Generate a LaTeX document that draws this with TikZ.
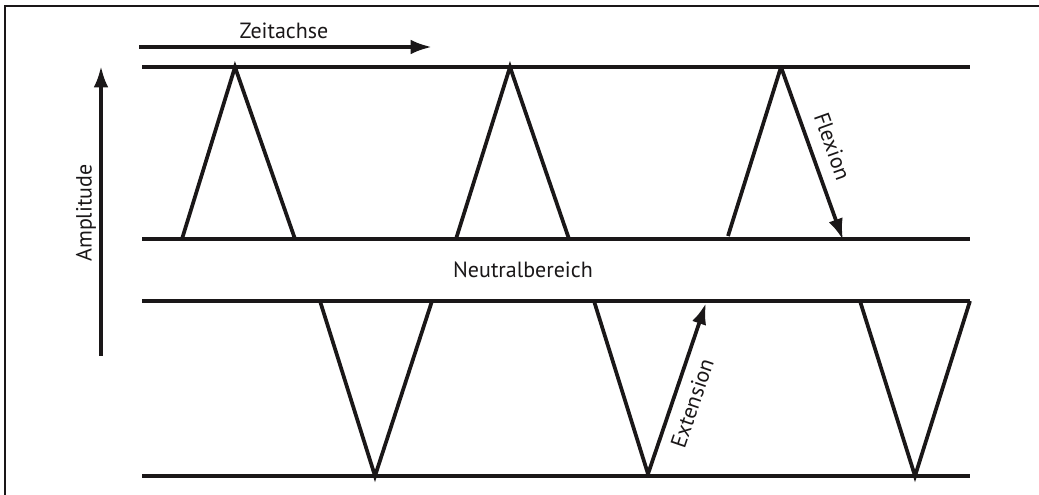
\documentclass[tikz,border=0pt]{standalone}
\usepackage{fontspec}
\setmainfont{PT Sans}
\usetikzlibrary{arrows.meta}
\definecolor{ink}{HTML}{1A1718}
\begin{document}
\begin{tikzpicture}[x=0.75pt,y=-0.75pt,
  ln/.style={draw=ink,line width=2.8pt},
  lbl/.style={text=ink,font=\fontsize{16.5pt}{18pt}\selectfont,inner sep=0pt},
  arr/.style={ln,-{Latex[length=16pt,width=11pt]}},
  frame/.style={draw=ink,line width=1.6pt}]
\useasboundingbox (0,0) rectangle (1039,495);
% frame (top and left only)
\coordinate (fbl) at (5,495);
\coordinate (ftl) at (5,6);
\coordinate (ftr) at (1039,6);
\draw[frame] (fbl) -- (ftl) -- (ftr);
% band lines
\coordinate (a1) at (142,67);  \coordinate (a2) at (970,67);
\coordinate (b1) at (142,239); \coordinate (b2) at (970,239);
\coordinate (c1) at (142,301); \coordinate (c2) at (970,301);
\coordinate (d1) at (142,476); \coordinate (d2) at (970,476);
\draw[ln] (a1) -- (a2);
\draw[ln] (b1) -- (b2);
\draw[ln] (c1) -- (c2);
\draw[ln] (d1) -- (d2);
% axes
\coordinate (zs) at (139,47); \coordinate (ze) at (432,47);
\draw[arr] (zs) -- (ze);
\node[lbl] (zt) at (284,31) {Zeitachse};
\coordinate (as) at (101,356); \coordinate (ae) at (101,66);
\draw[arr] (as) -- (ae);
\node[lbl,rotate=90] (at) at (86,213) {Amplitude};
\node[lbl] (nt) at (523,270) {Neutralbereich};
% upper triangles
\coordinate (u1l) at (182,239); \coordinate (u1p) at (235,67); \coordinate (u1r) at (295,239);
\coordinate (u2l) at (456,239); \coordinate (u2p) at (510,67); \coordinate (u2r) at (569,239);
\coordinate (u3l) at (728,236); \coordinate (u3p) at (781,67); \coordinate (u3r) at (843,240);
\draw[ln] (u1l) -- (u1p) -- (u1r);
\draw[ln] (u2l) -- (u2p) -- (u2r);
\draw[ln] (u3l) -- (u3p);
\draw[arr] (u3p) -- node[lbl,sloped,above=9pt] (fl) {Flexion} (u3r);
% lower triangles
\coordinate (l1l) at (320,301); \coordinate (l1p) at (375,476); \coordinate (l1r) at (432,301);
\coordinate (l2l) at (594,301); \coordinate (l2p) at (648,474); \coordinate (l2r) at (706,303);
\coordinate (l3l) at (860,301); \coordinate (l3p) at (915,476); \coordinate (l3r) at (970,301);
\draw[ln] (l1l) -- (l1p) -- (l1r);
\draw[ln] (l3l) -- (l3p) -- (l3r);
\draw[ln] (l2l) -- (l2p);
\draw[arr] (l2p) -- node[lbl,sloped,below=7pt,pos=0.45] (ex) {Extension} (l2r);
\end{tikzpicture}
\end{document}
